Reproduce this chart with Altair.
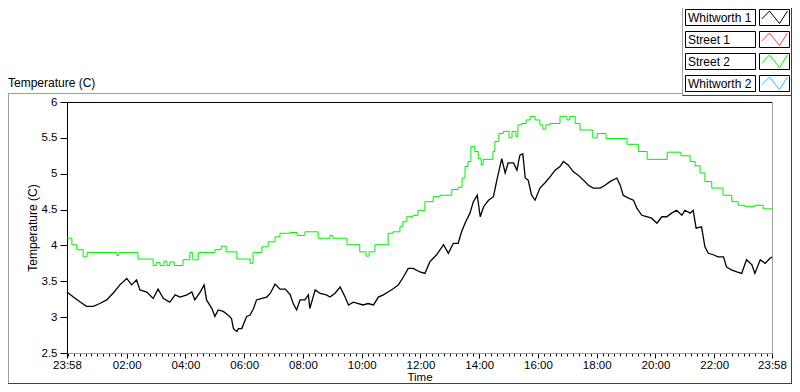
import altair as alt
import pandas as pd

# ---------------- data ----------------
series_names = ["Whitworth 1", "Street 1", "Street 2", "Whitworth 2"]
series_colors = ["#000000", "#ff4040", "#00ee00", "#33bbff"]
chart_label = "Temperature (C)"
x_title = "Time"
y_title = "Temperature (C)"

# minutes after the 23:58 start
w1_minutes = [
    0, 13, 27, 40, 54, 67, 81, 95, 108, 122,
    132, 142, 149, 163, 176, 186, 197, 210, 221, 231,
    245, 255, 261, 272, 280, 285, 296, 302, 309, 319,
    329, 336, 340, 343, 347, 350, 357, 367, 374, 381,
    387, 398, 408, 415, 425, 435, 446, 456, 462, 469,
    476, 486, 493, 496, 507, 517, 530, 537, 547, 558,
    568, 575, 585, 595, 605, 615, 626, 636, 646, 656,
    667, 677, 687, 697, 707, 721, 731, 741, 755, 769,
    779, 789, 799, 806, 813, 823, 830, 838, 844, 851,
    861, 871, 878, 888, 895, 901, 912, 919, 925, 931,
    936, 942, 949, 956, 966, 976, 987, 997, 1007, 1014,
    1024, 1034, 1044, 1055, 1065, 1075, 1089, 1099, 1109, 1123,
    1130, 1136, 1147, 1157, 1164, 1174, 1184, 1194, 1205, 1215,
    1225, 1235, 1245, 1256, 1262, 1273, 1279, 1285, 1296, 1303,
    1310, 1320, 1330, 1341, 1347, 1357, 1368, 1378, 1388, 1399,
    1405, 1416, 1426, 1436, 1440,
]
w1_temps = [
    3.35, 3.28, 3.21, 3.15, 3.15, 3.19, 3.24, 3.34, 3.45, 3.54,
    3.45, 3.52, 3.38, 3.35, 3.26, 3.39, 3.26, 3.21, 3.31, 3.28,
    3.31, 3.35, 3.24, 3.35, 3.45, 3.24, 3.12, 3.01, 3.10, 3.08,
    3.03, 2.98, 2.84, 2.82, 2.80, 2.84, 2.84, 3.01, 3.03, 3.12,
    3.24, 3.26, 3.28, 3.33, 3.46, 3.39, 3.39, 3.31, 3.19, 3.10,
    3.24, 3.24, 3.31, 3.12, 3.38, 3.33, 3.31, 3.28, 3.33, 3.42,
    3.28, 3.17, 3.21, 3.19, 3.17, 3.19, 3.17, 3.28, 3.31, 3.35,
    3.40, 3.45, 3.56, 3.68, 3.68, 3.63, 3.61, 3.77, 3.87, 4.01,
    3.89, 4.03, 4.03, 4.19, 4.31, 4.45, 4.61, 4.70, 4.40, 4.54,
    4.63, 4.68, 4.91, 5.21, 5.01, 5.15, 5.15, 5.05, 5.26, 5.28,
    4.94, 4.91, 4.70, 4.63, 4.80, 4.87, 4.96, 5.05, 5.10, 5.17,
    5.12, 5.03, 4.98, 4.91, 4.84, 4.80, 4.80, 4.84, 4.89, 4.94,
    4.84, 4.70, 4.66, 4.63, 4.52, 4.42, 4.40, 4.38, 4.31, 4.40,
    4.40, 4.45, 4.49, 4.42, 4.49, 4.45, 4.49, 4.24, 4.26, 3.98,
    3.89, 3.87, 3.84, 3.84, 3.70, 3.66, 3.63, 3.61, 3.80, 3.73,
    3.61, 3.80, 3.75, 3.82, 3.84,
]

s2_minutes = [
    0, 10, 20, 33, 41, 102, 106, 145, 176, 182,
    190, 198, 204, 210, 219, 237, 251, 257, 268, 302,
    315, 325, 347, 374, 380, 398, 411, 425, 435, 456,
    470, 486, 513, 537, 543, 572, 598, 611, 617, 629,
    656, 666, 680, 686, 694, 707, 717, 731, 748, 762,
    786, 799, 807, 813, 819, 825, 833, 840, 846, 850,
    870, 874, 882, 891, 903, 909, 917, 921, 929, 938,
    946, 956, 966, 972, 978, 987, 1007, 1021, 1027, 1038,
    1048, 1074, 1083, 1101, 1144, 1167, 1185, 1226, 1254, 1273,
    1283, 1293, 1303, 1317, 1340, 1358, 1371, 1385, 1405, 1422,
    1440,
]
s2_temps = [
    4.10, 4.01, 3.94, 3.84, 3.90, 3.86, 3.90, 3.81, 3.72, 3.76,
    3.72, 3.78, 3.72, 3.77, 3.72, 3.80, 3.90, 3.80, 3.90, 3.94,
    3.99, 3.91, 3.81, 3.75, 3.90, 3.98, 4.05, 4.12, 4.17, 4.18,
    4.14, 4.19, 4.10, 4.14, 4.10, 4.01, 3.91, 3.85, 3.91, 4.01,
    4.17, 4.19, 4.26, 4.33, 4.40, 4.42, 4.49, 4.61, 4.68, 4.70,
    4.78, 4.81, 4.94, 5.10, 5.17, 5.38, 5.31, 5.21, 5.12, 5.20,
    5.31, 5.45, 5.56, 5.59, 5.50, 5.59, 5.52, 5.68, 5.70, 5.75,
    5.80, 5.75, 5.68, 5.62, 5.68, 5.70, 5.80, 5.75, 5.80, 5.70,
    5.61, 5.50, 5.56, 5.49, 5.41, 5.31, 5.20, 5.30, 5.25, 5.17,
    5.11, 5.01, 4.89, 4.80, 4.70, 4.61, 4.56, 4.54, 4.56, 4.51,
    4.51,
]

y_ticks = [2.5, 3, 3.5, 4, 4.5, 5, 5.5, 6]
x_major_ticks = [0, 122, 242, 362, 482, 602, 722, 842, 962, 1082, 1202, 1322, 1440]
x_minor_ticks = [m for m in range(2, 1440, 12) if m not in x_major_ticks]

# ---------------- chart ----------------
W, H = 705, 251
FONT = "Liberation Sans"
GREY = "#a0a0a0"
DARK = "#404040"

x_scale = alt.Scale(domain=[0, 1440], nice=False, zero=False)
y_scale = alt.Scale(domain=[2.5, 6], nice=False, zero=False)

label_expr = ("pad('' + floor(((datum.value + 1438) % 1440) / 60), 2, '0', 'left') + ':' + "
              "pad('' + ((datum.value + 1438) % 60), 2, '0', 'left')")

x_major_axis = alt.Axis(
    orient="bottom", values=x_major_ticks, labelExpr=label_expr, title=x_title,
    tickSize=5, tickColor="black", domainColor=GREY, labelPadding=1,
    labelFontSize=11.5, labelColor="black", labelFlush=False, labelOverlap=False,
    titleFontSize=11.5, titleFontWeight="normal", titleColor="black",
    titleBaseline="alphabetic", titleY=27.5, grid=False,
)
x_minor_axis = alt.Axis(
    orient="bottom", values=x_minor_ticks, labels=False, domain=False,
    tickSize=3, tickColor="black", title=None, grid=False,
)
y_axis = alt.Axis(
    values=y_ticks, format="~g", tickSize=7, tickColor="black", domainColor="black",
    labelPadding=3, labelFontSize=11.5, labelColor="black", title=y_title,
    titleFontSize=12, titleFontWeight="normal", titlePadding=2, titleColor="black",
    grid=False,
)

df_w1 = pd.DataFrame({"t": w1_minutes, "v": w1_temps})
df_s2 = pd.DataFrame({"t": s2_minutes, "v": s2_temps})

line_s2 = alt.Chart(df_s2).mark_line(color=series_colors[2], strokeWidth=1, interpolate="step-after").encode(
    x=alt.X("t:Q", scale=x_scale, axis=x_minor_axis),
    y=alt.Y("v:Q", scale=y_scale, axis=None),
)
line_w1 = alt.Chart(df_w1).mark_line(color=series_colors[0], strokeWidth=1.3).encode(
    x=alt.X("t:Q", scale=x_scale, axis=x_major_axis),
    y=alt.Y("v:Q", scale=y_scale, axis=y_axis),
)

one = pd.DataFrame({"k": [0]})


def hline(x1, x2, y, color):
    return alt.Chart(one).mark_rule(color=color, strokeWidth=1).encode(
        x=alt.value(x1), x2=alt.value(x2), y=alt.value(y))


def vline(x, y1, y2, color):
    return alt.Chart(one).mark_rule(color=color, strokeWidth=1).encode(
        x=alt.value(x), y=alt.value(y1), y2=alt.value(y2))


frame = [
    hline(0, W + 0.5, 0.5, "black"),        # plot top
    vline(W + 0.5, 0, H, GREY),             # plot right
    hline(-59, 615.5, -8.5, GREY),          # panel top
    vline(-58.5, -8.5, 282, GREY),          # panel left
    hline(-59, 725, 281.5, DARK),           # panel bottom
    vline(724.5, -94, 282, DARK),           # panel right
    vline(615.5, -94, -6.5, GREY),          # legend panel left
    hline(615.5, 725, -6.5, DARK),          # legend panel bottom
]

title_text = alt.Chart(one).mark_text(
    align="left", baseline="alphabetic", fontSize=12, color="black", font=FONT
).encode(x=alt.value(-59), y=alt.value(-15), text=alt.value(chart_label))

# ---------------- legend ----------------
legend_df = pd.DataFrame({"name": series_names, "color": series_colors,
                          "row": list(range(len(series_names)))})
row_y = alt.Y("row:Q", scale=alt.Scale(domain=[0, 3], range=[-84.5, -18.5], nice=False, zero=False),
              axis=None)

box_path = "M-1,-0.22857L1,-0.22857L1,0.22857L-1,0.22857Z"
sample_path = "M-1,-0.53333L1,-0.53333L1,0.53333L-1,0.53333Z"
zig_path = "M-0.88,0.1L-0.35,-0.45L0.35,0.42L0.9,-0.45"

legend_box = alt.Chart(legend_df).mark_point(
    shape=box_path, size=4900, filled=False, stroke="black", strokeWidth=1, opacity=1
).encode(x=alt.value(653.5), y=row_y)
legend_sample = alt.Chart(legend_df).mark_point(
    shape=sample_path, size=900, filled=False, stroke="black", strokeWidth=1, opacity=1
).encode(x=alt.value(707.5), y=row_y)
legend_zig = alt.Chart(legend_df).mark_point(
    shape=zig_path, size=830, filled=False, strokeWidth=1, opacity=1
).encode(x=alt.value(707.5), y=row_y, stroke=alt.Stroke("color:N", scale=None))
legend_text = alt.Chart(legend_df).mark_text(
    align="left", baseline="alphabetic", dy=4.5, fontSize=12, color="black", font=FONT
).encode(x=alt.value(621), y=row_y, text="name:N")

chart = alt.layer(
    *frame, line_s2, line_w1, title_text,
    legend_box, legend_sample, legend_zig, legend_text,
).resolve_scale(y="independent").resolve_axis(x="independent", y="independent").properties(
    width=W, height=H,
    padding={"left": 59, "top": 94, "right": 20, "bottom": 31},
    autosize=alt.AutoSizeParams(type="none"),
).configure_view(stroke=None).configure(font=FONT)

chart.save("out.html", embed_options={"renderer": "svg", "actions": False})
